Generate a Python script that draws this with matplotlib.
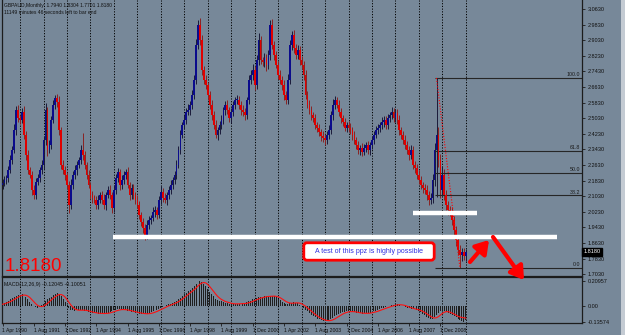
import matplotlib
matplotlib.use("Agg")
import matplotlib.pyplot as plt
from matplotlib.patches import FancyBboxPatch, Rectangle
import matplotlib.transforms as mtransforms

W, H = 625, 335
BG = "#778899"
NARROW = ["Liberation Sans Narrow", "Liberation Sans", "DejaVu Sans"]

header_line1 = "GBPAUD,Monthly  1.7940 1.8304 1.7701 1.8180"
header_line2 = "11149 minutes 46 seconds left to bar end"
macd_title = "MACD(12,26,9) -0.12045 -0.10051"
note_text = "A test of this ppz is highly possible"
current_price = 1.8180

first_open = 2.160
closes = [
    2.171, 2.186, 2.196, 2.237, 2.289, 2.340, 2.442, 2.545, 2.504, 2.494,
    2.535, 2.417, 2.314, 2.237, 2.212, 2.135, 2.109, 2.176, 2.196, 2.237,
    2.263, 2.391, 2.545, 2.340, 2.365, 2.494, 2.571, 2.607, 2.586, 2.442,
    2.263, 2.237, 2.212, 2.160, 2.058, 2.160, 2.212, 2.237, 2.263, 2.289,
    2.340, 2.314, 2.263, 2.212, 2.160, 2.109, 2.094, 2.084, 2.058, 2.084,
    2.109, 2.084, 2.058, 2.109, 2.135, 2.109, 2.043, 2.135, 2.196, 2.227,
    2.160, 2.186, 2.212, 2.227, 2.160, 2.109, 2.145, 2.109, 2.084, 2.058,
    2.007, 1.971, 1.940, 1.904, 1.955, 1.981, 1.991, 2.022, 2.032, 2.007,
    2.084, 2.125, 2.094, 2.084, 2.109, 2.135, 2.160, 2.186, 2.212, 2.263,
    2.340, 2.417, 2.468, 2.494, 2.535, 2.545, 2.571, 2.622, 2.699, 2.878,
    2.981, 2.904, 2.750, 2.699, 2.673, 2.622, 2.571, 2.519, 2.468, 2.417,
    2.442, 2.468, 2.494, 2.545, 2.571, 2.545, 2.504, 2.535, 2.571, 2.596,
    2.596, 2.571, 2.545, 2.535, 2.519, 2.596, 2.699, 2.725, 2.750, 2.673,
    2.801, 2.904, 2.801, 2.791, 2.812, 2.776, 2.827, 2.981, 2.878, 2.827,
    2.776, 2.725, 2.699, 2.673, 2.622, 2.596, 2.699, 2.878, 2.930, 2.863,
    2.827, 2.853, 2.801, 2.776, 2.725, 2.622, 2.571, 2.545, 2.519, 2.504,
    2.468, 2.453, 2.432, 2.412, 2.402, 2.391, 2.417, 2.442, 2.519, 2.571,
    2.596, 2.571, 2.535, 2.504, 2.484, 2.453, 2.468, 2.453, 2.442, 2.417,
    2.391, 2.365, 2.340, 2.350, 2.330, 2.350, 2.365, 2.340, 2.365, 2.391,
    2.417, 2.442, 2.453, 2.468, 2.484, 2.494, 2.468, 2.504, 2.519, 2.535,
    2.504, 2.530, 2.494, 2.442, 2.417, 2.391, 2.365, 2.340, 2.314, 2.340,
    2.263, 2.248, 2.212, 2.186, 2.160, 2.145, 2.135, 2.109, 2.084, 2.094,
    2.186, 2.340, 2.417, 2.289, 2.135, 2.212, 2.109, 2.058, 2.032, 2.022,
    1.981, 1.930, 1.878, 1.827, 1.801, 1.817, 1.794, 1.818,
]
# wick lengths above / below the candle body, in thousandths
up_wick = [
    18, 22, 15, 20, 25, 18, 30, 20, 26, 14,
    22, 30, 18, 24, 15, 20, 26, 18, 22, 15,
    25, 20, 35, 18, 28, 20, 24, 15, 22, 30,
    18, 25, 20, 16, 22, 30, 18, 24, 20, 15,
    28, 87, 20, 16, 24, 18, 22, 15, 20, 26,
    18, 22, 30, 15, 20, 24, 18, 28, 20, 22,
    16, 24, 20, 18, 26, 15, 22, 20, 18, 25,
    20, 15, 22, 18, 28, 20, 16, 24, 20, 18,
    22, 30, 18, 24, 15, 20, 26, 18, 22, 28,
    20, 24, 18, 26, 22, 30, 20, 25, 28, 30,
    26, 35, 24, 20, 28, 18, 22, 26, 20, 24,
    18, 22, 26, 15, 20, 24, 18, 22, 20, 16,
    24, 20, 18, 26, 22, 18, 28, 24, 30, 20,
    26, 36, 22, 18, 24, 20, 28, 26, 30, 20,
    22, 18, 26, 20, 24, 18, 30, 26, 22, 25,
    20, 24, 18, 22, 20, 26, 18, 24, 20, 16,
    22, 18, 20, 16, 24, 20, 22, 26, 20, 28,
    22, 18, 24, 20, 16, 22, 18, 20, 24, 18,
    20, 16, 22, 18, 24, 20, 18, 22, 16, 20,
    18, 22, 20, 16, 24, 18, 22, 20, 18, 24,
    20, 18, 22, 24, 18, 20, 26, 22, 18, 24,
    20, 22, 18, 24, 20, 18, 22, 26, 20, 24,
    30, 35, 292, 40, 30, 45, 28, 24, 22, 20,
    24, 18, 22, 20, 26, 18, 20, 12,
]
dn_wick = [
    20, 15, 22, 18, 14, 20, 16, 24, 18, 22,
    18, 22, 26, 20, 16, 24, 18, 20, 15, 22,
    20, 18, 24, 30, 16, 22, 18, 20, 24, 26,
    22, 18, 24, 20, 41, 22, 18, 20, 24, 16,
    20, 24, 18, 22, 16, 20, 24, 18, 22, 20,
    18, 22, 20, 24, 16, 18, 26, 22, 20, 18,
    24, 18, 22, 20, 16, 24, 18, 22, 20, 18,
    22, 20, 24, 26, 18, 22, 20, 16, 24, 20,
    18, 22, 20, 16, 24, 18, 20, 22, 18, 20,
    16, 20, 18, 22, 20, 18, 24, 20, 18, 22,
    20, 24, 28, 22, 18, 24, 20, 26, 22, 18,
    24, 20, 18, 22, 26, 20, 18, 24, 20, 22,
    18, 22, 26, 20, 24, 18, 22, 20, 26, 24,
    20, 26, 22, 18, 24, 30, 20, 26, 22, 24,
    18, 22, 20, 26, 24, 18, 22, 20, 24, 26,
    22, 18, 24, 20, 26, 22, 18, 20, 24, 18,
    20, 22, 18, 24, 20, 26, 18, 22, 20, 24,
    22, 18, 20, 24, 22, 18, 20, 22, 18, 24,
    20, 22, 18, 24, 20, 18, 22, 20, 24, 18,
    20, 18, 22, 20, 18, 24, 20, 22, 18, 20,
    22, 18, 20, 24, 20, 22, 18, 20, 24, 22,
    20, 24, 22, 18, 20, 26, 22, 24, 28, 20,
    24, 30, 240, 35, 40, 30, 28, 24, 26, 22,
    24, 28, 30, 26, 66, 28, 20, 24,
]
# MACD main (histogram) and signal line, in thousandths
macd_main = [
    20, 25, 35, 45, 55, 65, 75, 85, 92, 96,
    98, 90, 75, 55, 35, 15, 0, -10, -14, -8,
    5, 20, 40, 55, 65, 78, 90, 102, 110, 100,
    80, 55, 30, 5, -20, -30, -35, -38, -36, -34,
    -32, -35, -40, -45, -50, -55, -58, -60, -62, -63,
    -64, -63, -62, -60, -55, -48, -42, -35, -30, -28,
    -28, -30, -32, -35, -40, -45, -48, -52, -56, -60,
    -63, -65, -66, -66, -64, -60, -54, -46, -38, -30,
    -22, -14, -6, 2, 8, 14, 20, 26, 34, 44,
    56, 70, 84, 98, 110, 122, 135, 150, 165, 185,
    205, 210, 200, 185, 165, 145, 120, 100, 80, 62,
    50, 44, 40, 32, 26, 22, 18, 16, 16, 18,
    20, 20, 20, 22, 25, 30, 38, 46, 55, 60,
    66, 72, 76, 78, 80, 82, 82, 84, 84, 82,
    75, 62, 48, 35, 25, 20, 20, 24, 28, 30,
    28, 22, 12, 0, -15, -30, -45, -60, -72, -84,
    -95, -105, -113, -119, -123, -126, -125, -120, -110, -98,
    -86, -76, -66, -58, -52, -48, -45, -44, -46, -50,
    -54, -57, -60, -62, -63, -62, -60, -58, -55, -50,
    -44, -38, -32, -26, -20, -14, -8, -3, 2, 6,
    10, 13, 14, 10, 4, -2, -8, -14, -20, -24,
    -28, -32, -36, -40, -52, -65, -78, -90, -100, -108,
    -110, -95, -75, -55, -45, -40, -45, -50, -58, -66,
    -75, -85, -95, -108, -120, -128, -136, -120,
]
macd_signal = [
    15, 18, 24, 30, 36, 45, 55, 65, 74, 83,
    89, 92, 90, 83, 71, 54, 36, 19, 5, -3,
    -5, -1, 9, 22, 37, 52, 66, 78, 89, 96,
    96, 89, 75, 54, 30, 8, -10, -24, -32, -35,
    -35, -35, -35, -37, -40, -45, -50, -54, -57, -60,
    -61, -62, -63, -62, -61, -58, -53, -48, -42, -37,
    -33, -30, -30, -31, -33, -36, -40, -44, -48, -52,
    -56, -59, -62, -64, -65, -64, -62, -58, -52, -46,
    -38, -30, -22, -14, -6, 1, 8, 14, 20, 28,
    36, 46, 58, 70, 84, 97, 110, 123, 136, 151,
    168, 183, 193, 197, 193, 181, 163, 143, 122, 101,
    82, 67, 55, 46, 38, 33, 28, 23, 20, 18,
    18, 18, 19, 20, 21, 23, 27, 32, 39, 46,
    53, 60, 66, 70, 74, 78, 80, 81, 82, 83,
    81, 77, 70, 60, 49, 38, 30, 25, 23, 24,
    26, 26, 24, 18, 9, -2, -16, -30, -44, -58,
    -71, -83, -94, -103, -111, -117, -121, -123, -121, -116,
    -108, -98, -87, -77, -68, -60, -54, -49, -47, -47,
    -48, -50, -53, -57, -59, -61, -61, -61, -60, -57,
    -53, -49, -44, -38, -32, -26, -20, -14, -9, -3,
    1, 6, 9, 11, 10, 8, 4, -2, -8, -14,
    -19, -24, -28, -32, -38, -45, -54, -65, -77, -88,
    -97, -101, -98, -89, -76, -62, -52, -47, -48, -52,
    -59, -67, -76, -86, -92, -96, -99, -101,
]

date_labels = ["1 Apr 1990", "1 Aug 1991", "1 Dec 1992", "1 Apr 1994", "1 Aug 1995",
               "1 Dec 1996", "1 Apr 1998", "1 Aug 1999", "1 Dec 2000", "1 Apr 2002",
               "1 Aug 2003", "1 Dec 2004", "1 Apr 2006", "1 Aug 2007", "1 Dec 2008"]
date_label_idx = [0, 16, 32, 48, 64, 80, 96, 112, 128, 144, 160, 176, 192, 208, 224]
year_start_idx = [9, 21, 33, 45, 57, 69, 81, 93, 105, 117, 129, 141, 153, 165, 177,
                  189, 201, 213, 225, 237]
price_ticks = [3.063, 2.983, 2.903, 2.823, 2.743, 2.663, 2.583, 2.503, 2.423, 2.343,
               2.263, 2.183, 2.103, 2.023, 1.943, 1.863, 1.783, 1.703]
macd_ticks = [0.20957, 0.0, -0.13574]
macd_tick_labels = ["0.20957", "0.00", "-0.13574"]

fib_high, fib_low = 2.709, 1.735
fib_high_idx, fib_low_idx = 222, 234
fib_levels = [100.0, 61.8, 50.0, 38.2, 0.0]

support_prices = [1.894, 2.016]
support_from_idx = [56.5, 210.0]
support_to_idx = [283.6, 242.7]

# ---------------- layout (pixel based) ----------------
fig = plt.figure(figsize=(W / 100, H / 100), dpi=100, facecolor=BG)


def px_axes(left, top, right, bottom):
    return fig.add_axes([left / W, 1 - bottom / H, (right - left) / W, (bottom - top) / H])


ax = px_axes(2, 0, 582, 276)
axm = px_axes(2, 277, 582, 323)

n = len(closes)
xs = list(range(n))
opens = [first_open] + closes[:-1]
highs = [max(o, c) + u / 1000 for o, c, u in zip(opens, closes, up_wick)]
lows = [min(o, c) - d / 1000 for o, c, d in zip(opens, closes, dn_wick)]

bar_px = 1.955
xlim = ((2 - 2.5) / bar_px, (582 - 2.5) / bar_px)

for a in (ax, axm):
    a.set_facecolor(BG)
    a.set_xlim(*xlim)
    for s in a.spines.values():
        s.set_color("#1c1c1c")
        s.set_linewidth(0.9)
    a.spines["top"].set_visible(a is axm)
    for yi in year_start_idx:
        a.axvline(yi, color="black", lw=0.7, ls=(0, (1.2, 1.6)), zorder=0.5)

# main panel y-scale: 3.063 at 9px, 0.005128 per px
ax.set_ylim(3.063 - 267 * 0.005128, 3.063 + 9 * 0.005128)

# candles
bull = [c >= o for o, c in zip(opens, closes)]
wick_cols = ["#1a1a3a" if b else "#8a2222" for b in bull]
body_cols = ["#0b0b8c" if b else "#e00000" for b in bull]
ax.vlines(xs, lows, highs, colors=wick_cols, lw=0.7, zorder=2)
ax.bar(xs, [max(abs(c - o), 0.004) for o, c in zip(opens, closes)],
       bottom=[min(o, c) for o, c in zip(opens, closes)],
       width=0.9, color=body_cols, linewidth=0, zorder=3)

# fibonacci levels
x_right = xlim[1]
for lvl in fib_levels:
    p = fib_low + (fib_high - fib_low) * lvl / 100
    ax.hlines(p, fib_high_idx - 0.6, x_right, color="#262626", lw=0.8, zorder=2.5)
    ax.text((580 - 2.5) / bar_px, p + 0.004, f"{lvl:.1f}", ha="right", va="bottom",
            fontsize=3.8, color="#1a1a1a", family=NARROW)
ax.plot([fib_high_idx, fib_low_idx], [fib_high, fib_low], color="red", ls=(0, (1, 1.5)),
        lw=0.8, zorder=4)

# white support lines
for p, a0, a1 in zip(support_prices, support_from_idx, support_to_idx):
    ax.hlines(p, a0, a1, color="white", lw=3.2, zorder=5)

# price axis on the right
ax.yaxis.tick_right()
ax.set_yticks(price_ticks)
ax.set_yticklabels([f"{t:.4f}" for t in price_ticks], family=NARROW)
ax.tick_params(axis="y", length=2.5, width=0.6, color="#1c1c1c", pad=1.5,
               labelsize=4.0, labelcolor="#111111")
ax.set_xticks([])
trans = mtransforms.blended_transform_factory(ax.transAxes, ax.transData)
ax.text(1.003, current_price, "1.8180", transform=trans, ha="left", va="center",
        fontsize=4.0, color="white", family=NARROW, zorder=30, clip_on=False,
        bbox=dict(boxstyle="square,pad=0.25", fc="black", ec="black"))

# MACD panel
axm.set_ylim(-0.13574 - 0.8 * 0.008383, 0.20957 + 4 * 0.008383)
axm.bar(xs, [v / 1000 for v in macd_main], width=0.5, color="#1e1e1e", linewidth=0, zorder=2)
axm.plot(xs, [v / 1000 for v in macd_signal], color="#ff1010", lw=0.8, zorder=3)
axm.yaxis.tick_right()
axm.set_yticks(macd_ticks)
axm.set_yticklabels(macd_tick_labels, family=NARROW)
axm.tick_params(axis="y", length=2.5, width=0.6, color="#1c1c1c", pad=1.5,
                labelsize=4.0, labelcolor="#111111")
axm.set_xticks(date_label_idx)
axm.set_xticklabels(date_labels, family=NARROW, ha="left")
axm.tick_params(axis="x", length=2.5, width=0.6, color="#1c1c1c", pad=1.2,
                labelsize=3.7, labelcolor="#111111")
for yi in year_start_idx:
    axm.axvline(yi, ymin=-0.26, ymax=0, color="black", lw=0.7, ls=(0, (1.2, 1.6)),
                clip_on=False, zorder=0.5)
axm.text(0.003, 0.9, macd_title, transform=axm.transAxes, ha="left", va="top",
         fontsize=3.8, color="#111111", family=NARROW)

# ---------------- overlay annotations (pixel coords) ----------------
ov = fig.add_axes([0, 0, 1, 1], zorder=20)
ov.set_xlim(0, W)
ov.set_ylim(H, 0)
ov.axis("off")
ov.patch.set_alpha(0)

ov.text(4, 5, header_line1, fontsize=3.6, family=NARROW, color="#111111", va="center")
ov.text(4, 12, header_line2, fontsize=3.6, family=NARROW, color="#111111", va="center")
ov.text(5, 275, "1.8180", fontsize=13.5, family=["Liberation Sans", "DejaVu Sans"],
        color="#ff0000", va="bottom", ha="left")

ov.add_patch(FancyBboxPatch((305, 244), 128, 15, boxstyle="round,pad=1.2,rounding_size=3",
                            fc="white", ec="#ff0000", lw=2.0))
ov.text(369, 251.5, note_text, fontsize=5.0, family=["Liberation Sans", "DejaVu Sans"],
        color="#2e2ee0", ha="center", va="center")

arrow = dict(arrowstyle="-|>,head_length=0.55,head_width=0.35", color="#ff0000", lw=3.0,
             shrinkA=0, shrinkB=0, mutation_scale=14)
ov.annotate("", xy=(489, 240), xytext=(470, 262), arrowprops=arrow)
ov.annotate("", xy=(524, 280), xytext=(493, 237), arrowprops=arrow)

ov.add_patch(Rectangle((621, 0), 4, H, fc="#c4cbd3", ec="none"))

fig.savefig("out.png", dpi=100, facecolor=BG)
